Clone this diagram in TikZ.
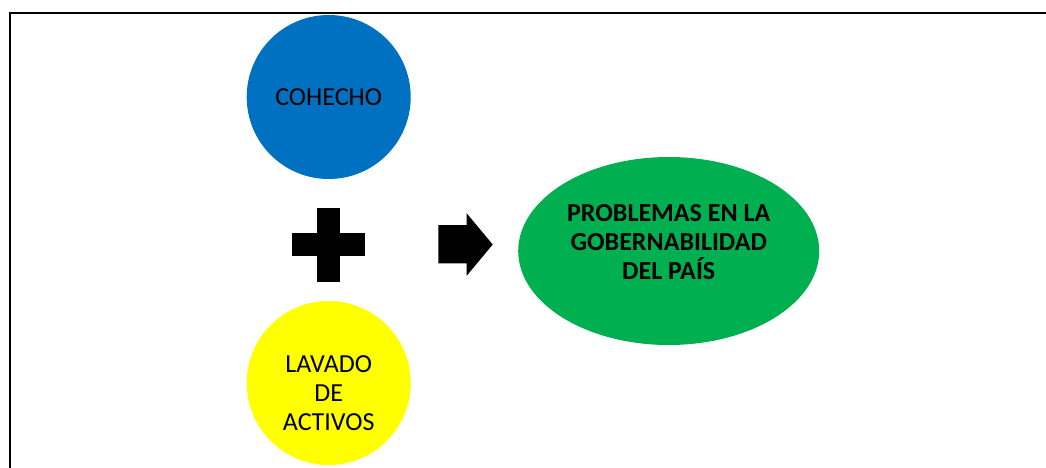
\documentclass[tikz,border=0pt]{standalone}
\usepackage{fontspec}
\setmainfont{Carlito}
\usepackage{xcolor}
\usetikzlibrary{positioning,shapes.geometric}
\definecolor{cohechoblue}{HTML}{0070C0}
\definecolor{lavadoyellow}{HTML}{FFFF00}
\definecolor{problemgreen}{HTML}{00B050}
\tikzset{%
	bubble/.style   = {circle, minimum size=164pt, inner sep=0pt, align=center, font=\fontsize{26}{29}\selectfont}, % Cause
	result/.style   = {ellipse, minimum width=301pt, minimum height=188pt, inner sep=0pt, align=center, font=\fontsize{26}{29}\selectfont\bfseries}, % Effect
	frameline/.style = {line width=1.5pt},
}
\begin{document}
\begin{tikzpicture}[x=1pt,y=-1pt,node distance=286pt]
		\useasboundingbox (0,0) rectangle (1046,468);
		\draw [frameline] (10,468) -- (10,13) -- (1046,13);
		
		\node [bubble,fill=cohechoblue] (cohecho) at (328.7,97) {COHECHO};
		\node [bubble,fill=lavadoyellow,text height=95pt] (lavado) [below of=cohecho] {LAVADO\\DE\\ACTIVOS};
		\node [result,fill=problemgreen,text depth=18pt] (problemas) at (668.7,251) {PROBLEMAS EN LA\\GOBERNABILIDAD\\DEL PAÍS};
		
		% plus sign and block arrow
		\fill (317.3,208.3) rectangle (340,281.7);
		\fill (292.3,233.3) rectangle (365,256);
		\fill (438.3,225) -- (466.7,225) -- (466.7,213.3) -- (492.7,244.5) -- (466.7,275.7) -- (466.7,263.3) -- (438.3,263.3) -- cycle;
		\end{tikzpicture}
\end{document}
